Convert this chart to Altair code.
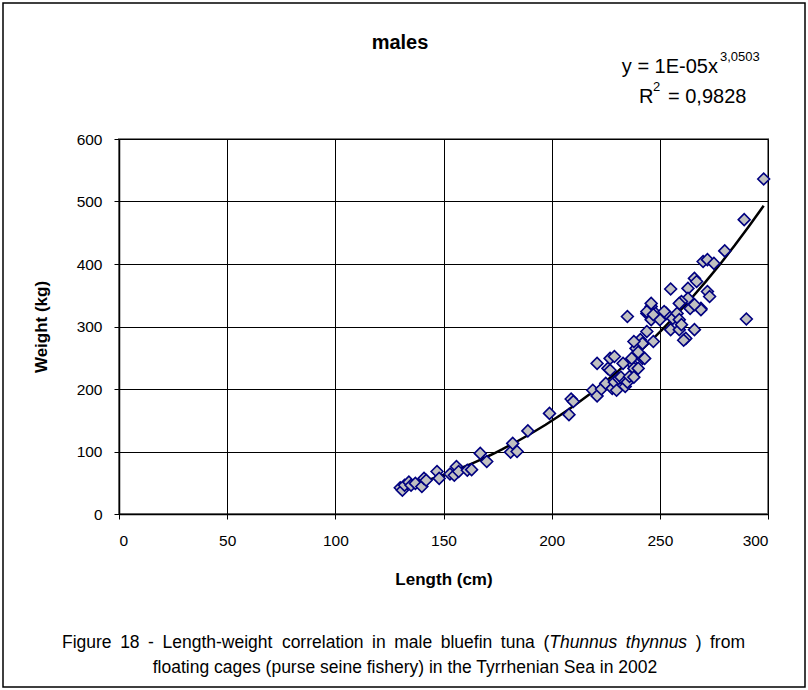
import altair as alt
import pandas as pd

# ---------------- data ----------------
length_cm = [130, 131, 132, 134, 135, 137, 140, 141, 142, 147, 148, 153, 155, 156, 157,
             161, 163, 167, 170, 181, 182, 184, 189, 199, 208, 209, 210, 219, 221, 221,
             223, 225, 226, 227, 229, 228, 229, 230, 231, 232, 234, 234, 235, 236, 237,
             238, 238, 240, 227, 233, 235, 237, 239, 242, 243, 241, 242, 238, 240, 244,
             246, 244, 248, 253, 256, 246, 250, 255, 259, 266, 262, 247, 244, 247, 252,
             258, 259, 260, 255, 266, 267, 263, 272, 273, 263, 260, 269, 264, 270, 272,
             275, 280, 289, 298, 290, 269, 266, 246, 259, 261]
weight_kg = [42, 38, 46, 51, 46, 49, 44, 57, 54, 68, 57, 64, 62, 76, 68,
             70, 71, 97, 84, 99, 113, 100, 133, 161, 159, 184, 180, 198, 189, 241,
             200, 209, 233, 249, 252, 201, 211, 198, 217, 219, 212, 204, 211, 220, 241,
             233, 219, 233, 230, 241, 316, 249, 265, 249, 249, 279, 273, 276, 259, 292,
             332, 321, 321, 321, 313, 311, 311, 295, 295, 295, 281, 276, 324, 319, 324,
             321, 311, 303, 360, 377, 372, 361, 356, 348, 345, 340, 329, 329, 404, 407,
             401, 421, 471, 536, 312, 327, 335, 337, 337, 278]

x_ticks = [0, 50, 100, 150, 200, 250, 300]
y_ticks = [0, 100, 200, 300, 400, 500, 600]

title_text = ["males"]
equation_main = ["y = 1E-05x"]
equation_exp = ["3,0503"]
r2_letter = ["R"]
r2_exp = ["2"]
r2_value = ["= 0,9828"]
# caption line 1, word by word (True = italic)
caption_1_words = ["Figure", "18", "-", "Length-weight", "correlation", "in", "male",
                   "bluefin", "tuna", "(", "Thunnus", "thynnus", ")", "from"]
caption_1_italic = [False, False, False, False, False, False, False,
                    False, False, False, True, True, False, False]
caption_1_joined = [False, False, False, False, False, False, False,
                    False, False, False, True, False, False, False]  # glued to previous word
caption_2 = ["floating cages (purse seine fishery) in the Tyrrhenian Sea in 2002"]

df = pd.DataFrame({"Length": length_cm, "Weight": weight_kg})

FONT = "Liberation Sans"
PL, PT = 119, 139          # plot origin in the page
PW, PH = 649, 375          # plot area size
PR = 808 - PL - PW
PB = 690 - PT - PH


def ax(v):
    return v - PL


def ay(v):
    return v - PT


# Arial / Liberation Sans advance widths (1/1000 em) for caption layout
ADV = {" ": 278, "-": 333, "(": 333, ")": 333, "F": 611, "L": 611, "T": 611,
       "a": 556, "b": 556, "c": 500, "e": 556, "f": 278, "g": 556, "h": 556,
       "i": 222, "l": 222, "m": 833, "n": 556, "o": 556, "r": 333, "s": 500,
       "t": 278, "u": 556, "w": 722, "y": 500}


def text_width(s, size):
    return sum(ADV.get(ch, 556) for ch in s) * size / 1000.0


x_enc = alt.X("Length:Q",
              scale=alt.Scale(domain=[0, 300], nice=False, zero=True),
              axis=alt.Axis(values=x_ticks, title="Length (cm)", format="d",
                            labelPadding=14, titlePadding=23))
y_enc = alt.Y("Weight:Q",
              scale=alt.Scale(domain=[0, 600], nice=False),
              axis=alt.Axis(values=y_ticks, title="Weight (kg)", format="d",
                            labelPadding=12, titlePadding=26))

points = alt.Chart(df).mark_point(
    shape="diamond", filled=True, fill="#C0C0C0", stroke="#000080",
    strokeWidth=1.6, size=140, opacity=1, fillOpacity=1, strokeOpacity=1
).encode(x=x_enc, y=y_enc)

trend = alt.Chart(df).transform_regression(
    "Length", "Weight", method="pow", extent=[130, 298]
).mark_line(color="black", strokeWidth=2.5).encode(
    x=alt.X("Length:Q"), y=alt.Y("Weight:Q"))


def txt(values, x, y, size=16, weight="normal", style="normal",
        align="center", baseline="middle", angle=0):
    return alt.Chart(pd.DataFrame({"t": values})).mark_text(
        font=FONT, fontSize=size, fontWeight=weight, fontStyle=style,
        align=align, baseline=baseline, angle=angle, color="black"
    ).encode(text="t:N", x=alt.value(ax(x)), y=alt.value(ay(y)))


# caption line 1, lightly justified between x=62 and x=745
CAP_SIZE = 17.5
LEFT, RIGHT = 62, 745
widths = [text_width(w, CAP_SIZE) for w in caption_1_words]
n_gaps = sum(1 for j in caption_1_joined[1:] if not j)
gap = (RIGHT - LEFT - sum(widths)) / n_gaps
xs = []
cur = LEFT
for i, w in enumerate(widths):
    if i > 0:
        cur += 0 if caption_1_joined[i] else gap
    xs.append(cur)
    cur += w
cap_df = pd.DataFrame({"t": caption_1_words, "italic": caption_1_italic,
                       "px": [ax(v) for v in xs]})


def cap_layer(italic):
    return alt.Chart(cap_df).transform_filter(
        alt.datum.italic if italic else ~alt.datum.italic
    ).mark_text(font=FONT, fontSize=CAP_SIZE,
                fontStyle="italic" if italic else "normal",
                align="left", baseline="middle", color="black"
                ).encode(text="t:N", x=alt.X("px:Q", scale=None),
                         y=alt.value(ay(643)))


border = alt.Chart(pd.DataFrame({"a": [0]})).mark_rect(
    filled=False, stroke="black", strokeWidth=1.5, fillOpacity=0
).encode(x=alt.value(ax(3)), x2=alt.value(ax(805)),
         y=alt.value(ay(3)), y2=alt.value(ay(687)))

layers = [
    border,
    trend,
    points,
    txt(title_text, 400, 43, size=20, weight="bold"),
    txt(equation_main, 718, 67, size=20, align="right"),
    txt(equation_exp, 720, 57, size=13, align="left"),
    txt(r2_letter, 639, 97, size=20, align="left"),
    txt(r2_exp, 653, 87, size=13, align="left"),
    txt(r2_value, 668, 97, size=20, align="left"),
    cap_layer(False),
    cap_layer(True),
    txt(caption_2, 405, 668, size=CAP_SIZE),
]

chart = alt.layer(*layers).properties(
    width=PW, height=PH,
    autosize=alt.AutoSizeParams(type="none"),
    padding={"left": PL, "top": PT, "right": PR, "bottom": PB},
    background="white",
).configure_view(
    stroke="#808080", strokeWidth=2
).configure_axis(
    labelFont=FONT, labelFontSize=15.5, labelColor="black",
    titleFont=FONT, titleFontSize=17, titleFontWeight="bold", titleColor="black",
    domainColor="black", domainWidth=1.5,
    tickColor="black", tickSize=5, tickWidth=1,
    grid=True, gridColor="black", gridOpacity=1, gridWidth=1,
)

chart.save("out.html", embed_options={"renderer": "svg", "actions": False})
